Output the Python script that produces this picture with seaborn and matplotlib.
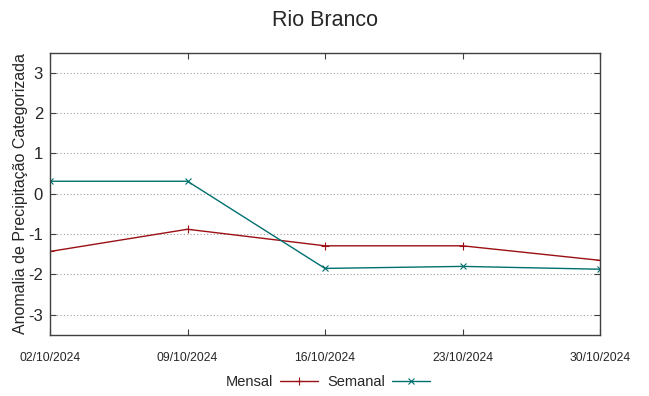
import matplotlib
matplotlib.use("Agg")
import matplotlib.pyplot as plt
import seaborn as sns
import pandas as pd
from matplotlib.lines import Line2D

dates = ["02/10/2024", "09/10/2024", "16/10/2024", "23/10/2024", "30/10/2024"]
mensal = [-1.43, -0.88, -1.29, -1.29, -1.65]
semanal = [0.31, 0.31, -1.85, -1.80, -1.87]
yticks = [-3, -2, -1, 0, 1, 2, 3]

sns.set_style("white")
plt.rcParams["font.family"] = ["Liberation Sans", "DejaVu Sans"]

d = pd.to_datetime(dates, format="%d/%m/%Y")
df = pd.DataFrame({
    "data": list(d) * 2,
    "valor": mensal + semanal,
    "serie": ["Mensal"] * len(dates) + ["Semanal"] * len(dates),
})

fig = plt.figure(figsize=(6.49, 3.96), dpi=100)
ax = fig.add_axes([50 / 649, 61 / 396, 550 / 649, 282.5 / 396])

palette = {"Mensal": "#9b1014", "Semanal": "#00706e"}
sns.lineplot(data=df, x="data", y="valor", hue="serie", style="serie",
             markers={"Mensal": "+", "Semanal": "x"}, dashes=False,
             palette=palette, linewidth=1.0, markersize=5, markeredgewidth=0.8,
             ax=ax, legend=False)
for ln in ax.lines:
    ln.set_markeredgecolor(ln.get_color())
    ln.set_markerfacecolor(ln.get_color())
    if ln.get_marker() == "+":
        ln.set_markersize(6)

ax.set_xlim(d[0], d[-1])
ax.set_ylim(-3.5, 3.5)
ax.set_xticks(d)
ax.set_xticklabels(dates, fontsize=8.7)
ax.set_yticks(yticks)
ax.set_yticklabels([str(v) for v in yticks], fontsize=12)
ax.yaxis.grid(True, linestyle=(0, (1, 2)), color="#a0a0a0", linewidth=0.8)
ax.xaxis.grid(False)
ax.tick_params(axis="both", direction="in", length=4, width=0.8, color="#404040",
               top=True, right=True, bottom=True, left=True)
ax.tick_params(axis="x", pad=12)
ax.tick_params(axis="y", pad=5)
for s in ax.spines.values():
    s.set_color("#404040")
    s.set_linewidth(1.0)
ax.set_xlabel("")
ax.set_ylabel("Anomalia de Precipitação Categorizada", fontsize=11.5, labelpad=0)
fig.suptitle("Rio Branco", fontsize=15.5, y=0.975)

handles = [
    Line2D([], [], color=palette["Mensal"], marker="+", markersize=6, markeredgewidth=0.8, linewidth=1.0),
    Line2D([], [], color=palette["Semanal"], marker="x", markersize=5, markeredgewidth=0.8, linewidth=1.0),
]
fig.legend(handles, ["Mensal", "Semanal"], loc="center", bbox_to_anchor=(328 / 649, 1 - 382 / 396),
           ncol=2, frameon=False, markerfirst=False, fontsize=10.5, handlelength=2.6,
           columnspacing=0.6, handletextpad=0.5)

fig.savefig("out.png", dpi=100)
